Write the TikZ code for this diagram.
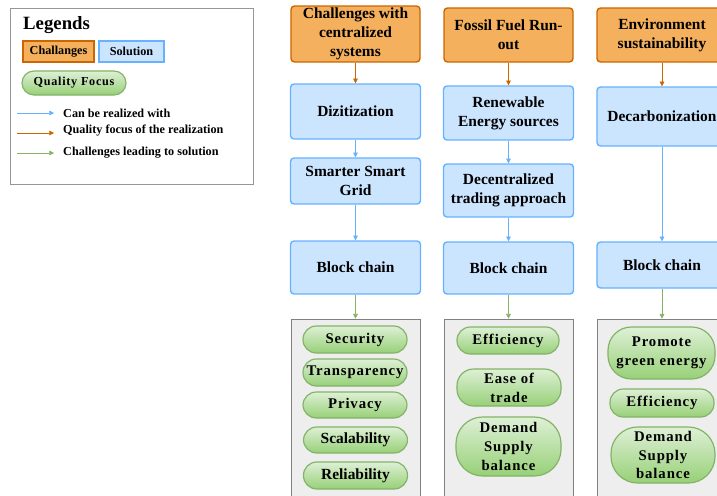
\documentclass[tikz,border=0pt]{standalone}
\usepackage{fontspec}
\setmainfont{Liberation Serif}
\newfontfamily\spacedserif{Liberation Serif}[LetterSpace=6.0]
\usepackage{tikz}
\usetikzlibrary{arrows.meta,positioning,shapes.geometric}
\pgfdeclarelayer{edgelayer}
\pgfdeclarelayer{nodelayer}
\pgfsetlayers{edgelayer,nodelayer,main}
\definecolor{chfill}{RGB}{244,176,92}
\definecolor{chdraw}{RGB}{204,102,0}
\definecolor{solfill}{RGB}{204,229,255}
\definecolor{soldraw}{RGB}{102,178,255}
\definecolor{qtop}{RGB}{222,240,214}
\definecolor{qbot}{RGB}{151,208,119}
\definecolor{qdraw}{RGB}{130,179,102}
\definecolor{panelfill}{RGB}{238,238,238}
\definecolor{paneldraw}{RGB}{128,128,128}
\definecolor{legdraw}{RGB}{150,150,150}
\newcommand{\boxfont}{\fontsize{13.2}{16}\selectfont\bfseries}
\newcommand{\pillfont}{\fontsize{12.6}{16}\selectfont\spacedserif\bfseries}
\newcommand{\legfont}{\fontsize{10.4}{12}\selectfont\bfseries}
\tikzstyle{none}=[inner sep=0pt]
\tikzstyle{challenge}=[rectangle,rounded corners=3pt,fill=chfill,draw=chdraw,line width=1.2pt,align=center,font=\boxfont,inner sep=1pt,minimum width=3.87cm]
\tikzstyle{solution}=[rectangle,rounded corners=3pt,fill=solfill,draw=soldraw,line width=1.2pt,align=center,font=\boxfont,inner sep=1pt,minimum width=3.9cm]
\tikzstyle{quality}=[rectangle,rounded corners=0.4cm,top color=qtop,bottom color=qbot,draw=qdraw,line width=1pt,align=center,font=\pillfont,inner sep=1pt,minimum width=3.12cm,minimum height=0.81cm]
\tikzstyle{panel}=[rectangle,fill=panelfill,draw=paneldraw,line width=0.6pt,minimum width=3.87cm,minimum height=5.58cm]
\tikzstyle{realize}=[-{Triangle[length=4pt,width=4pt]},draw=soldraw,line width=0.6pt]
\tikzstyle{focus}=[-{Triangle[length=4pt,width=4pt]},draw=chdraw,line width=0.6pt]
\tikzstyle{leading}=[-{Triangle[length=4pt,width=4pt]},draw=qdraw,line width=0.6pt]
\begin{document}
\begin{tikzpicture}[x=0.03cm,y=-0.03cm]
	\useasboundingbox (0,0) rectangle (717,495);
	\begin{pgfonlayer}{nodelayer}
		\node [style=none,anchor=west,font=\fontsize{16}{18}\selectfont\bfseries] (title) at (23,25) {Legends};
		\node [style=challenge,minimum width=2.13cm,minimum height=0.63cm,font=\legfont,rounded corners=0pt] (lch) at (58.5,51.5) {Challanges};
		\node [style=solution,minimum width=1.95cm,minimum height=0.63cm,font=\legfont,rounded corners=0pt] (lsol) at (131.5,51.5) {Solution};
		\node [style=quality,minimum width=3.12cm,minimum height=0.72cm,rounded corners=0.36cm,font=\fontsize{10.4}{12}\selectfont\spacedserif\bfseries] (lq) at (74,83) {Quality Focus};
		\coordinate (la1) at (17,113);
		\coordinate (lb1) at (54,113);
		\coordinate (la2) at (17,133);
		\coordinate (lb2) at (54,133);
		\coordinate (la3) at (17,153);
		\coordinate (lb3) at (54,153);
		\node [style=none,anchor=west,font=\legfont] (lt1) at (63,113) {Can be realized with};
		\node [style=none,anchor=west,font=\legfont] (lt2) at (63,131) {Quality focus of the realization};
		\node [style=none,anchor=west,font=\legfont] (lt3) at (63,153) {Challenges leading to solution};
		% column 1
		\node [style=challenge,minimum height=1.68cm] (C1) at (355.5,34) {Challenges with\\centralized\\systems};
		\node [style=solution,minimum height=1.65cm] (S1) at (355.5,111.5) {Dizitization};
		\node [style=solution,minimum height=1.38cm] (S2) at (355.5,181) {Smarter Smart\\Grid};
		\node [style=solution,minimum height=1.59cm] (B1) at (355.5,267.5) {Block chain};
		\node [style=quality] (Q11) at (355,339.5) {Security};
		\node [style=quality] (Q12) at (355,372.5) {Transparency};
		\node [style=quality,minimum height=0.78cm] (Q13) at (355,405) {Privacy};
		\node [style=quality,minimum height=0.78cm,font=\boxfont] (Q14) at (355.5,440) {Scalability};
		\node [style=quality,font=\boxfont] (Q15) at (355.5,475.5) {Reliability};
		% column 2
		\node [style=challenge,minimum height=1.62cm] (C2) at (508.5,35) {Fossil Fuel Run-\\out};
		\node [style=solution,minimum height=1.62cm] (S3) at (508.5,113) {Renewable\\Energy sources};
		\node [style=solution,minimum height=1.59cm] (S4) at (508.5,190.5) {Decentralized\\trading approach};
		\node [style=solution,minimum height=1.56cm] (B2) at (508.5,268) {Block chain};
		\node [style=quality,minimum width=3.06cm] (Q21) at (508,340.5) {Efficiency};
		\node [style=quality,minimum height=1.11cm,rounded corners=0.5cm] (Q22) at (509,387.5) {Ease of\\trade};
		\node [style=quality,minimum width=3.15cm,minimum height=1.77cm,rounded corners=0.8cm] (Q23) at (508.5,446.5) {Demand\\Supply\\balance};
		% column 3
		\node [style=challenge,minimum width=3.9cm,minimum height=1.62cm] (C3) at (662,35) {Environment\\sustainability};
		\node [style=solution,minimum height=1.77cm] (S5) at (662,116.5) {Decarbonization};
		\node [style=solution,minimum height=1.38cm] (B3) at (662,265) {Block chain};
		\node [style=quality,minimum width=3.21cm,minimum height=1.56cm,rounded corners=0.7cm] (Q31) at (661.5,353) {Promote\\green energy};
		\node [style=quality,minimum height=0.84cm] (Q32) at (662,403) {Efficiency};
		\node [style=quality,minimum height=1.68cm,rounded corners=0.8cm] (Q33) at (663,455) {Demand\\Supply\\balance};
	\end{pgfonlayer}
	\begin{pgfonlayer}{edgelayer}
		\draw [draw=legdraw,fill=white,line width=0.8pt] (10,8) rectangle (253,184);
		\node [style=panel] (P1) at (355.5,412) {};
		\node [style=panel] (P2) at (508.5,412) {};
		\node [style=panel,minimum width=3.9cm] (P3) at (662,412) {};
		\draw [style=realize] (la1) to (lb1);
		\draw [style=focus] (la2) to (lb2);
		\draw [style=leading] (la3) to (lb3);
		\draw [style=focus] (C1) to (S1);
		\draw [style=realize] (S1) to (S2);
		\draw [style=realize] (S2) to (B1);
		\draw [style=leading] (B1) to (P1);
		\draw [style=focus] (C2) to (S3);
		\draw [style=realize] (S3) to (S4);
		\draw [style=realize] (S4) to (B2);
		\draw [style=leading] (B2) to (P2);
		\draw [style=focus] (C3) to (S5);
		\draw [style=realize] (S5) to (B3);
		\draw [style=leading] (B3) to (P3);
	\end{pgfonlayer}
\end{tikzpicture}
\end{document}
